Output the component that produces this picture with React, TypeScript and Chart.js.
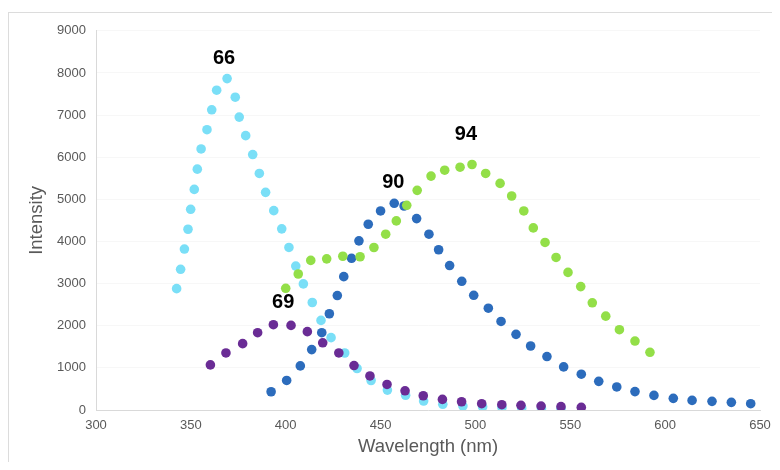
import React, { useEffect, useRef } from "react";
import { Chart, registerables } from "chart.js";

Chart.register(...registerables);

// Series 66 (cyan)
const cyanX = [342.5, 344.6, 346.6, 348.5, 349.9, 351.8, 353.4, 355.4, 358.5, 361.0, 363.6, 369.1, 373.4, 375.5, 378.9, 382.6, 386.1, 389.4, 393.7, 397.9, 401.7, 405.3, 409.3, 414.0, 418.6, 423.9, 431.1, 437.6, 445.0, 453.6, 463.2, 472.7, 482.8, 493.4, 503.8, 514.0, 524.4, 534.8, 545.1];
const cyanY = [2880, 3340, 3820, 4290, 4764, 5236, 5716, 6196, 6653, 7125, 7590, 7866, 7424, 6952, 6512, 6063, 5614, 5166, 4731, 4299, 3858, 3417, 2993, 2551, 2126, 1717, 1353, 985, 700, 472, 350, 213, 135, 94, 75, 60, 48, 40, 30];

// Series 69 (purple)
const purpleX = [360.3, 368.5, 377.3, 385.2, 393.5, 402.8, 411.4, 419.5, 428.0, 436.0, 444.4, 453.4, 462.9, 472.5, 482.6, 492.7, 503.3, 513.9, 524.0, 534.6, 545.1, 555.8];
const purpleY = [1071, 1354, 1575, 1835, 2024, 2008, 1860, 1595, 1354, 1055, 808, 606, 456, 338, 252, 196, 149, 126, 110, 94, 79, 63];

// Series 90 (blue)
const blueX = [392.3, 400.5, 407.7, 413.7, 419.0, 423.0, 427.2, 430.6, 434.7, 438.6, 443.5, 450.0, 457.2, 462.4, 469.0, 475.5, 480.6, 486.4, 492.8, 499.1, 506.8, 513.5, 521.4, 529.1, 537.7, 546.5, 555.8, 565.0, 574.5, 584.1, 594.1, 604.3, 614.2, 624.7, 634.9, 645.1];
const blueY = [433, 701, 1047, 1433, 1835, 2284, 2716, 3165, 3600, 4015, 4409, 4724, 4906, 4842, 4543, 4173, 3803, 3428, 3054, 2723, 2416, 2102, 1795, 1519, 1268, 1023, 850, 680, 547, 437, 346, 276, 228, 205, 181, 150];

// Series 94 (green)
const greenX = [400.0, 406.6, 413.2, 421.6, 430.1, 439.2, 446.5, 452.7, 458.3, 463.8, 469.3, 476.6, 483.8, 491.9, 498.2, 505.4, 513.0, 519.1, 525.5, 530.5, 536.7, 542.5, 548.8, 555.5, 561.6, 568.7, 575.9, 584.1, 592.0];
const greenY = [2889, 3228, 3551, 3587, 3649, 3637, 3857, 4173, 4488, 4858, 5213, 5551, 5692, 5763, 5827, 5614, 5378, 5079, 4724, 4322, 3976, 3621, 3266, 2929, 2544, 2228, 1906, 1637, 1370];

// Peak annotations (data coordinates)
const peakLabels = ["66", "69", "90", "94"];
const peakLabelX = [367.5, 398.7, 456.7, 495.0];
const peakLabelY = [8338, 2558, 5393, 6543];

// Axis ranges
const xMin = 300, xMax = 650, xStep = 50;
const yMin = 0, yMax = 9000, yStep = 1000;

const FONT = '"Liberation Sans", Arial, Helvetica, sans-serif';

export default function App() {
  const ref = useRef<HTMLCanvasElement | null>(null);

  useEffect(() => {
    document.documentElement.style.overflow = "hidden";
    const toPts = (xs: number[], ys: number[]) => xs.map((x, i) => ({ x, y: ys[i] }));

    const labelPlugin = {
      id: "peakLabels",
      afterDatasetsDraw(chart: any) {
        const { ctx, scales } = chart;
        ctx.save();
        ctx.font = `bold 20px ${FONT}`;
        ctx.fillStyle = "#000000";
        ctx.textAlign = "center";
        ctx.textBaseline = "middle";
        peakLabels.forEach((t, i) => {
          ctx.fillText(t, scales.x.getPixelForValue(peakLabelX[i]), scales.y.getPixelForValue(peakLabelY[i]));
        });
        ctx.restore();
      },
    };

    const ds = (label: string, xs: number[], ys: number[], color: string) => ({
      label,
      data: toPts(xs, ys),
      backgroundColor: color,
      borderColor: color,
      borderWidth: 0,
      pointRadius: 4.8,
      pointHoverRadius: 4.8,
      showLine: false,
    });

    const chart = new Chart(ref.current as HTMLCanvasElement, {
      type: "scatter",
      data: {
        datasets: [
          ds("69", purpleX, purpleY, "#6A2C95"),
          ds("94", greenX, greenY, "#93DF48"),
          ds("90", blueX, blueY, "#2C6CBC"),
          ds("66", cyanX, cyanY, "#7ADFF7"),
        ],
      },
      options: {
        animation: false,
        responsive: false,
        layout: { padding: { top: 16, right: 20, left: 0, bottom: 0 } },
        plugins: { legend: { display: false }, tooltip: { enabled: false } },
        scales: {
          x: {
            type: "linear",
            min: xMin,
            max: xMax,
            ticks: {
              stepSize: xStep,
              color: "#595959",
              font: { size: 13, family: FONT },
              padding: 0,
              callback: (v: any) => String(v),
            },
            grid: { display: false },
            border: { display: true, color: "#d9d9d9", width: 1 },
            title: {
              display: true,
              text: "Wavelength (nm)",
              color: "#595959",
              font: { size: 18.5, family: FONT },
              padding: { top: 0, bottom: 4 },
            },
            afterFit: (s: any) => {
              s.height = 52;
            },
          },
          y: {
            type: "linear",
            min: yMin,
            max: yMax,
            ticks: {
              stepSize: yStep,
              color: "#595959",
              font: { size: 13, family: FONT },
              padding: 10,
              callback: (v: any) => String(v),
            },
            grid: { color: "#f7f7f7", drawTicks: false },
            border: { display: true, color: "#d9d9d9", width: 1 },
            title: {
              display: true,
              text: "Intensity",
              color: "#595959",
              font: { size: 18.5, family: FONT },
              padding: { top: 17, bottom: 0 },
            },
            afterFit: (s: any) => {
              s.width = 87;
            },
          },
        },
      } as any,
      plugins: [labelPlugin],
    });
    return () => chart.destroy();
  }, []);

  return (
    <div style={{ paddingTop: 4 }}>
      <div
        style={{
          borderTop: "1px solid #dcdcdc",
          borderLeft: "1px solid #dcdcdc",
          width: 771,
          height: 449,
        }}
      >
        <canvas ref={ref} width={771} height={449} style={{ display: "block", width: 771, height: 449 }} />
      </div>
    </div>
  );
}
